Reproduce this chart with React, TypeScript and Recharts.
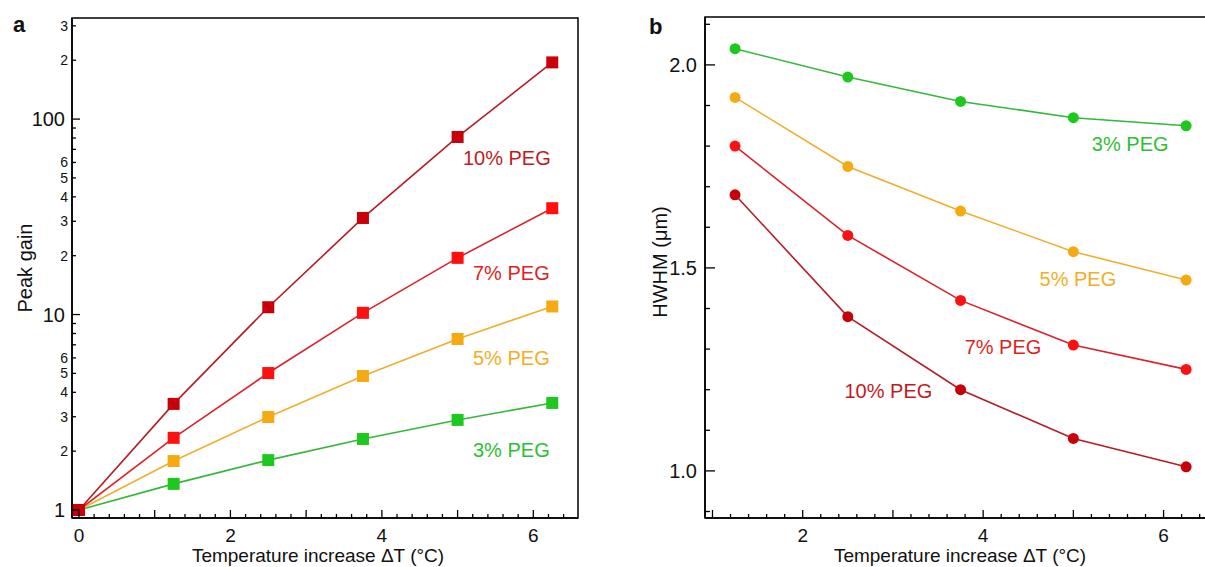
import { LineChart, Line, XAxis, YAxis, ReferenceArea, ReferenceDot } from 'recharts';

// panel a: peak gain vs temperature increase
const deltaA = [0, 1.25, 2.5, 3.75, 5, 6.25];
const gain3 = [1, 1.36, 1.8, 2.31, 2.89, 3.53];
const gain5 = [1, 1.78, 2.99, 4.85, 7.5, 11.0];
const gain7 = [1, 2.34, 5.02, 10.2, 19.5, 35];
const gain10 = [1, 3.49, 10.9, 31.2, 81, 195];

// panel b: HWHM vs temperature increase
const deltaB = [1.25, 2.5, 3.75, 5, 6.25];
const hwhm3 = [2.04, 1.97, 1.91, 1.87, 1.85];
const hwhm5 = [1.92, 1.75, 1.64, 1.54, 1.47];
const hwhm7 = [1.8, 1.58, 1.42, 1.31, 1.25];
const hwhm10 = [1.68, 1.38, 1.2, 1.08, 1.01];

const logTicks = [1, 2, 3, 4, 5, 6, 7, 8, 9, 10, 20, 30, 40, 50, 60, 70, 80, 90, 100, 200, 300];
// minor decade ticks are labelled with their leading digit only
const logLabels: Record<number, string> = {
  1: '1', 2: '2', 3: '3', 4: '4', 5: '5', 6: '6',
  10: '10', 20: '2', 30: '3', 40: '4', 50: '5', 60: '6',
  100: '100', 200: '2', 300: '3',
};
const logMajor = [1, 10, 100];
const xLabels = [0, 2, 4, 6];
const hwTicks = [0.9, 1.0, 1.1, 1.2, 1.3, 1.4, 1.5, 1.6, 1.7, 1.8, 1.9, 2.0, 2.1];
const hwLabels = ['1.0', '1.5', '2.0'];

const xTicksA = Array.from({ length: 33 }, (_, i) => Math.round(i * 2) / 10);
const xTicksB = Array.from({ length: 28 }, (_, i) => Math.round(10 + i * 2) / 10);

const C10 = '#c8000a';
const L10 = '#b51d24';
const C7 = '#ff1010';
const L7 = '#d9232a';
const C5 = '#f5aa14';
const L5 = '#f0ae2c';
const C3 = '#1ec81e';
const L3 = '#34b83a';

const FONT = '"Liberation Sans", Arial, sans-serif';
const M = 7;

const dataA = deltaA.map((d, i) => ({ d, g3: gain3[i], g5: gain5[i], g7: gain7[i], g10: gain10[i] }));
const dataB = deltaB.map((d, i) => ({ d, h3: hwhm3[i], h5: hwhm5[i], h7: hwhm7[i], h10: hwhm10[i] }));

const square = (color: string) => (p: any) => (
  <rect key={`s${p.index}`} x={p.cx - 6} y={p.cy - 6} width={12} height={12} fill={color} />
);
const circle = (color: string) => (p: any) => (
  <circle key={`c${p.index}`} cx={p.cx} cy={p.cy} r={5.5} fill={color} />
);

const LogTick = (p: any) => {
  const v = p.payload.value;
  const major = logMajor.includes(v);
  const ax = p.x + M;
  const label = logLabels[v];
  return (
    <g>
      <line x1={ax} x2={ax + (major ? 8 : 4)} y1={p.y} y2={p.y} stroke="#000" strokeWidth={1.3} />
      {label && (
        <text x={major ? p.x : p.x + 3} y={p.y} dy="0.36em" textAnchor="end" fontSize={major ? 20 : 14} fill="#111">
          {label}
        </text>
      )}
    </g>
  );
};

const HwTick = (p: any) => {
  const v = p.payload.value;
  const s = v.toFixed(1);
  const major = hwLabels.includes(s);
  const ax = p.x + M;
  return (
    <g>
      <line x1={ax} x2={ax + (major ? 10 : 5)} y1={p.y} y2={p.y} stroke="#000" strokeWidth={1.3} />
      {major && (
        <text x={p.x - 1} y={p.y} dy="0.36em" textAnchor="end" fontSize={20} fill="#111">
          {s}
        </text>
      )}
    </g>
  );
};

const XTick = (p: any) => {
  const v = p.payload.value;
  const major = Math.abs(v - Math.round(v)) < 1e-6;
  const ay = p.y - M;
  return (
    <g>
      <line x1={p.x} x2={p.x} y1={ay} y2={ay - (major ? 8 : 4)} stroke="#000" strokeWidth={1.3} />
      {major && xLabels.includes(Math.round(v)) && (
        <text x={p.x} y={ay + 24} textAnchor="middle" fontSize={19} fill="#111">
          {Math.round(v)}
        </text>
      )}
    </g>
  );
};

const peg = (text: string, color: string) => ({
  value: text,
  position: 'center' as const,
  fill: color,
  fontSize: 20,
});

const xDomA: [number, number] = [-0.092, 6.59];
const yDomA: [number, number] = [0.91, 329];
const xDomB: [number, number] = [0.917, 6.57];
const yDomB: [number, number] = [0.884, 2.118];

export default function App() {
  return (
    <div
      style={{
        position: 'absolute',
        left: 0,
        top: 0,
        width: 1205,
        height: 567,
        overflow: 'hidden',
        background: '#fff',
        fontFamily: FONT,
      }}
    >
      <div style={{ position: 'absolute', left: 0, top: 0 }}>
        <LineChart width={600} height={567} data={dataA} margin={{ top: 18, right: 22, bottom: 0, left: 12 }}>
          <XAxis
            dataKey="d"
            type="number"
            domain={xDomA}
            allowDataOverflow
            ticks={xTicksA}
            interval={0}
            tickSize={0}
            tickMargin={M}
            tickLine={false}
            tick={(p: any) => <XTick {...p} />}
            height={49}
            axisLine={{ stroke: '#000', strokeWidth: 1.5 }}
            label={{ value: 'Temperature increase ΔT (°C)', position: 'insideBottom', offset: 5, dx: -7, fontSize: 19, fill: '#111' }}
          />
          <YAxis
            type="number"
            scale="log"
            domain={yDomA}
            allowDataOverflow
            ticks={logTicks}
            interval={0}
            tickSize={0}
            tickMargin={M}
            tickLine={false}
            tick={(p: any) => <LogTick {...p} />}
            width={60}
            axisLine={{ stroke: '#000', strokeWidth: 1.5 }}
            label={{
              content: () => (
                <text x={25} y={268} transform="rotate(-90 25 268)" textAnchor="middle" dominantBaseline="central" fontSize={20} fill="#111">
                  Peak gain
                </text>
              ),
            }}
          />
          <ReferenceArea x1={xDomA[0]} x2={xDomA[1]} y1={yDomA[0]} y2={yDomA[1]} fill="none" stroke="#000" strokeWidth={1.5} fillOpacity={0} />
          <Line dataKey="g3" stroke={L3} strokeWidth={1.6} dot={square(C3)} isAnimationActive={false} />
          <Line dataKey="g5" stroke={L5} strokeWidth={1.6} dot={square(C5)} isAnimationActive={false} />
          <Line dataKey="g7" stroke={L7} strokeWidth={1.6} dot={square(C7)} isAnimationActive={false} />
          <Line dataKey="g10" stroke={L10} strokeWidth={1.6} dot={square(C10)} isAnimationActive={false} />
          <ReferenceDot x={5.65} y={63} r={0} stroke="none" label={peg('10% PEG', '#c21a22')} />
          <ReferenceDot x={5.71} y={16.3} r={0} stroke="none" label={peg('7% PEG', '#df1f24')} />
          <ReferenceDot x={5.71} y={5.99} r={0} stroke="none" label={peg('5% PEG', '#f2ae24')} />
          <ReferenceDot x={5.71} y={2.03} r={0} stroke="none" label={peg('3% PEG', '#2cc032')} />
          <text x={13} y={32} fontSize={22} fontWeight="bold" fill="#111">
            a
          </text>
        </LineChart>
      </div>
      <div style={{ position: 'absolute', left: 620, top: 0 }}>
        <LineChart width={600} height={567} data={dataB} margin={{ top: 17, right: 5, bottom: 0, left: 10 }}>
          <XAxis
            dataKey="d"
            type="number"
            domain={xDomB}
            allowDataOverflow
            ticks={xTicksB}
            interval={0}
            tickSize={0}
            tickMargin={M}
            tickLine={false}
            tick={(p: any) => <XTick {...p} />}
            height={49}
            axisLine={{ stroke: '#000', strokeWidth: 1.5 }}
            label={{ value: 'Temperature increase ΔT (°C)', position: 'insideBottom', offset: 5, fontSize: 19, fill: '#111' }}
          />
          <YAxis
            type="number"
            domain={yDomB}
            allowDataOverflow
            ticks={hwTicks}
            interval={0}
            tickSize={0}
            tickMargin={M}
            tickLine={false}
            tick={(p: any) => <HwTick {...p} />}
            width={75}
            axisLine={{ stroke: '#000', strokeWidth: 1.5 }}
            label={{
              content: () => (
                <text x={40} y={262} transform="rotate(-90 40 262)" textAnchor="middle" dominantBaseline="central" fontSize={20} fill="#111">
                  HWHM (μm)
                </text>
              ),
            }}
          />
          <ReferenceArea x1={xDomB[0]} x2={xDomB[1]} y1={yDomB[0]} y2={yDomB[1]} fill="none" stroke="#000" strokeWidth={1.5} fillOpacity={0} />
          <Line dataKey="h3" stroke={L3} strokeWidth={1.6} dot={circle(C3)} isAnimationActive={false} />
          <Line dataKey="h5" stroke={L5} strokeWidth={1.6} dot={circle(C5)} isAnimationActive={false} />
          <Line dataKey="h7" stroke={L7} strokeWidth={1.6} dot={circle(C7)} isAnimationActive={false} />
          <Line dataKey="h10" stroke={L10} strokeWidth={1.6} dot={circle(C10)} isAnimationActive={false} />
          <ReferenceDot x={5.63} y={1.805} r={0} stroke="none" label={peg('3% PEG', '#2cc032')} />
          <ReferenceDot x={5.05} y={1.473} r={0} stroke="none" label={peg('5% PEG', '#f2ae24')} />
          <ReferenceDot x={4.22} y={1.305} r={0} stroke="none" label={peg('7% PEG', '#df1f24')} />
          <ReferenceDot x={2.95} y={1.197} r={0} stroke="none" label={peg('10% PEG', '#c21a22')} />
          <text x={29} y={34} fontSize={22} fontWeight="bold" fill="#111">
            b
          </text>
        </LineChart>
      </div>
    </div>
  );
}
